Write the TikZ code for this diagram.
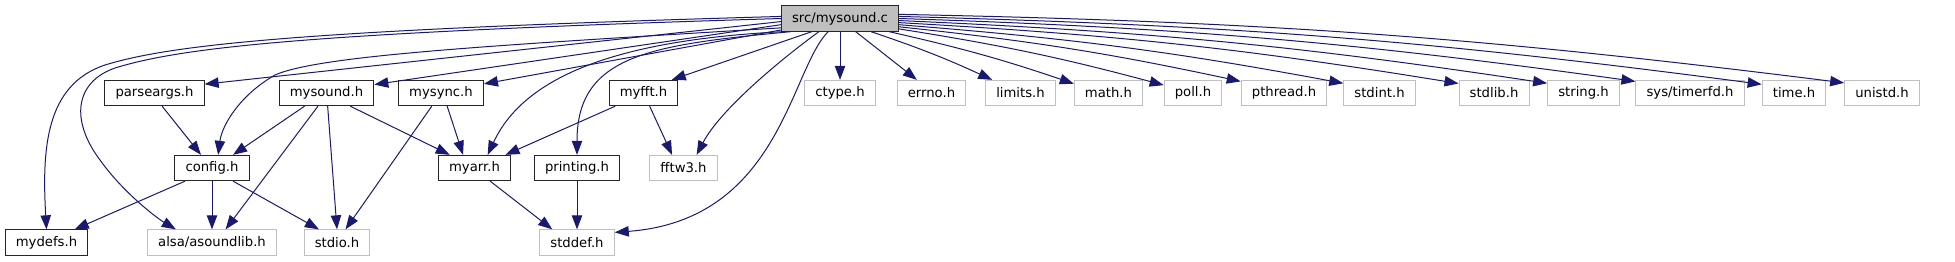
\documentclass[tikz,border=0pt]{standalone}
\usepackage{fontspec}
\setmainfont{DejaVu Sans}
\usetikzlibrary{arrows.meta}
\definecolor{cazul}{HTML}{191970}
\definecolor{cgris}{HTML}{BFBFBF}
\definecolor{cborde}{HTML}{262626}
\tikzset{
  nodo/.style={rectangle, draw=#1, fill=white, line width=0.75pt, minimum height=19pt,
               inner xsep=8pt, inner ysep=0pt, font=\fontsize{9.9}{11}\selectfont},
  interno/.style={nodo=cborde},
  externo/.style={nodo=cgris},
  raiz/.style={nodo=cborde, fill=cgris},
  flecha/.style={-{Triangle[length=10.5pt,width=7.8pt]}, line width=0.75pt, draw=cazul},
  abanico/.style={flecha, bend left=3},
}

\begin{document}
\begin{tikzpicture}[x=0.75pt, y=-0.75pt]
        \useasboundingbox (0,0) rectangle (1955,261);
        \node[raiz] (main) at (840,18.5) {src/mysound.c};
        \node[interno] (parse) at (154.5,93) {parseargs.h};
        \node[interno] (msound) at (326.5,93) {mysound.h};
        \node[interno] (msync) at (441,93) {mysync.h};
        \node[interno] (mfft) at (643.5,93) {myfft.h};
        \node[externo] (ctype) at (840,93) {ctype.h};
        \node[externo] (errno) at (931.5,93) {errno.h};
        \node[externo] (limits) at (1020.5,93) {limits.h};
        \node[externo] (math) at (1108.5,93) {math.h};
        \node[externo] (poll) at (1193,93) {poll.h};
        \node[externo] (pthread) at (1284,93) {pthread.h};
        \node[externo] (stdint) at (1379.5,93) {stdint.h};
        \node[externo] (stdlib) at (1494,93) {stdlib.h};
        \node[externo] (string) at (1583.5,93) {string.h};
        \node[externo] (timerfd) at (1690,93) {sys/timerfd.h};
        \node[externo] (time) at (1794,93) {time.h};
        \node[externo] (unistd) at (1882,93) {unistd.h};
        \node[interno] (config) at (212,168) {config.h};
        \node[interno] (marr) at (474.5,168) {myarr.h};
        \node[interno] (printing) at (577,168) {printing.h};
        \node[externo] (fftw) at (683.5,168) {fftw3.h};
        \node[interno] (mdefs) at (46.5,242.5) {mydefs.h};
        \node[externo] (alsa) at (212,242.5) {alsa/asoundlib.h};
        \node[externo] (stdio) at (337,242.5) {stdio.h};
        \node[externo] (stddef) at (577,242.5) {stddef.h};

        \draw[flecha] (main.178) .. controls (300,30) and (170,45) .. (105,65) .. controls (45,85) and (42,150) .. (mdefs.north);
        \draw[flecha] (main.180) .. controls (300,33) and (180,48) .. (115,68) .. controls (75,82) and (70,120) .. (100,160) .. controls (125,195) and (160,220) .. (alsa.160);
        \draw[flecha] (main.183) -- (parse.10);
        \draw[flecha] (main.189) .. controls (500,45) and (320,55) .. (275,75) .. controls (240,95) and (222,125) .. (config.65);
        \draw[flecha] (main.186) -- (msound.10);
        \draw[flecha] (main.191) -- (msync.12);
        \draw[flecha] (main.193) .. controls (620,40) and (525,75) .. (marr.45);
        \draw[flecha] (main.195) .. controls (650,45) and (577,55) .. (printing.north);
        \draw[flecha] (main.205) -- (mfft.25);
        \draw[flecha] (main.212) .. controls (780,60) and (720,110) .. (fftw.45);
        \draw[flecha] (main.228) .. controls (790,70) and (780,220) .. (stddef.15);
        \draw[flecha] (main.south) -- (ctype.north);
        \draw[flecha] (main.-40) -- (errno.138);
        \draw[abanico] (main.-23) to (limits.155);
        \draw[abanico] (main.-15) to (math.165);
        \draw[abanico] (main.-10) to (poll.165);
        \draw[abanico] (main.-8) to (pthread.165);
        \draw[abanico] (main.-6) to (stdint.165);
        \draw[abanico] (main.-4) to (stdlib.165);
        \draw[abanico] (main.-2) to (string.165);
        \draw[abanico] (main.0) to (timerfd.168);
        \draw[abanico] (main.2) to (time.165);
        \draw[abanico] (main.4) to (unistd.165);

        \draw[flecha] (parse.-60) -- (config.130);
        \draw[flecha] (msound.-149) -- (config.32);
        \draw[flecha] (msound.-123) -- (alsa.44);
        \draw[flecha] (msound.-85) -- (stdio.north);
        \draw[flecha] (msound.-29) -- (marr.152);
        \draw[flecha] (msync.-65) -- (marr.131);
        \draw[flecha] (msync.-125) -- (stdio.57);
        \draw[flecha] (config.-154) -- (mdefs.25);
        \draw[flecha] (config.south) -- (alsa.north);
        \draw[flecha] (config.-32) -- (stdio.144);
        \draw[flecha] (marr.-40) -- (stddef.152);
        \draw[flecha] (printing.south) -- (stddef.north);
        \draw[flecha] (mfft.-155) -- (marr.23);
        \draw[flecha] (mfft.-65) -- (fftw.131);
    \end{tikzpicture}
\end{document}
